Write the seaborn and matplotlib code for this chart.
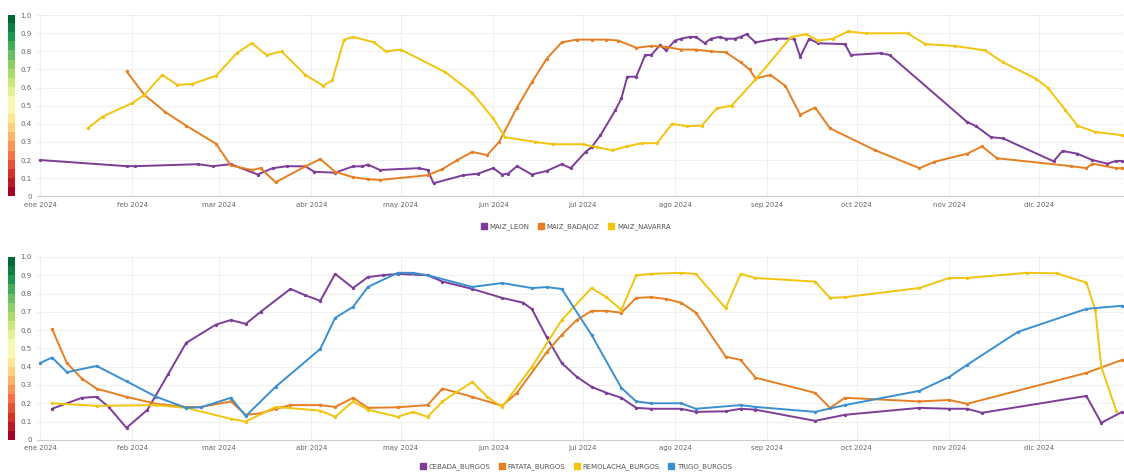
import pandas as pd
import numpy as np
import seaborn as sns
import matplotlib.pyplot as plt
from matplotlib.lines import Line2D

# Days counted from 1 Jan 2024, values are index readings (0-1)
leon_day = [0, 29, 32, 53, 58, 64, 73, 78, 83, 89, 92, 99, 105, 108, 110, 114, 127, 130, 132,
            142, 147, 152, 155, 157, 160, 165, 170, 175, 178, 183, 185, 188, 193, 195, 197, 200,
            203, 205, 208, 210, 213, 215, 218, 220, 223, 225, 228, 230, 233, 235, 237, 240, 247,
            253, 255, 258, 261, 270, 272, 282, 285, 311, 314, 319, 323, 340, 343, 348, 353, 358,
            361, 363]
leon_val = [0.20, 0.166, 0.166, 0.177, 0.166, 0.177, 0.12, 0.155, 0.166, 0.165, 0.135, 0.13, 0.165,
            0.165, 0.175, 0.145, 0.155, 0.145, 0.072, 0.116, 0.125, 0.155, 0.12, 0.125, 0.166, 0.12,
            0.14, 0.177, 0.155, 0.245, 0.27, 0.337, 0.475, 0.54, 0.66, 0.66, 0.78, 0.78, 0.835,
            0.805, 0.86, 0.87, 0.88, 0.88, 0.845, 0.87, 0.88, 0.87, 0.87, 0.88, 0.895, 0.85, 0.87,
            0.87, 0.77, 0.87, 0.845, 0.84, 0.78, 0.79, 0.78, 0.41, 0.387, 0.326, 0.32, 0.193, 0.25,
            0.235, 0.20, 0.18, 0.195, 0.195]

badajoz_day = [29, 35, 42, 49, 59, 64, 71, 74, 79, 89, 94, 99, 105, 110, 114, 130, 135, 140, 145,
               150, 154, 160, 165, 170, 175, 180, 185, 190, 194, 200, 205, 210, 215, 220, 225, 230,
               235, 238, 240, 245, 250, 255, 260, 265, 280, 295, 300, 311, 316, 321, 346, 351, 353,
               361, 363]
badajoz_val = [0.69, 0.56, 0.465, 0.39, 0.29, 0.17, 0.145, 0.155, 0.077, 0.165, 0.205, 0.135, 0.105,
               0.094, 0.09, 0.116, 0.15, 0.20, 0.245, 0.227, 0.30, 0.49, 0.63, 0.76, 0.85, 0.865,
               0.865, 0.865, 0.86, 0.82, 0.83, 0.825, 0.81, 0.81, 0.80, 0.795, 0.74, 0.70, 0.65,
               0.67, 0.61, 0.45, 0.49, 0.375, 0.255, 0.155, 0.19, 0.235, 0.275, 0.21, 0.166, 0.155,
               0.18, 0.155, 0.155]

navarra_day = [16, 21, 31, 35, 41, 46, 51, 59, 66, 71, 76, 81, 89, 95, 98, 102, 105, 112, 116, 121,
               136, 145, 152, 156, 166, 172, 182, 187, 192, 197, 202, 207, 212, 217, 222, 227, 232,
               240, 252, 257, 261, 266, 271, 277, 291, 297, 307, 317, 323, 334, 338, 344, 348, 354,
               363]
navarra_val = [0.375, 0.44, 0.515, 0.56, 0.67, 0.615, 0.62, 0.665, 0.79, 0.845, 0.78, 0.80, 0.67,
               0.61, 0.64, 0.865, 0.88, 0.85, 0.80, 0.81, 0.685, 0.57, 0.43, 0.326, 0.30, 0.287,
               0.287, 0.27, 0.254, 0.276, 0.293, 0.293, 0.40, 0.387, 0.39, 0.485, 0.50, 0.645, 0.88,
               0.895, 0.86, 0.87, 0.91, 0.90, 0.90, 0.84, 0.83, 0.805, 0.74, 0.65, 0.60, 0.475,
               0.39, 0.355, 0.337]

cebada_day = [4, 14, 19, 23, 29, 36, 43, 49, 59, 64, 69, 74, 84, 89, 94, 99, 105, 110, 115, 120,
              130, 135, 145, 155, 162, 165, 170, 175, 180, 185, 190, 195, 200, 205, 215, 220, 230,
              235, 240, 260, 270, 295, 305, 311, 316, 351, 356, 363]
cebada_val = [0.17, 0.23, 0.235, 0.18, 0.066, 0.164, 0.36, 0.53, 0.63, 0.655, 0.634, 0.70, 0.825,
              0.79, 0.76, 0.907, 0.83, 0.89, 0.90, 0.907, 0.90, 0.865, 0.825, 0.776, 0.75, 0.715,
              0.56, 0.42, 0.345, 0.29, 0.257, 0.23, 0.175, 0.17, 0.17, 0.153, 0.156, 0.17, 0.165,
              0.104, 0.137, 0.175, 0.17, 0.17, 0.148, 0.24, 0.093, 0.153]

patata_day = [4, 9, 14, 19, 29, 39, 49, 54, 64, 69, 74, 79, 84, 94, 99, 105, 110, 120, 130, 135,
              145, 155, 160, 170, 175, 180, 185, 190, 195, 200, 205, 210, 215, 220, 230, 235, 240,
              260, 265, 270, 295, 305, 311, 351, 363]
patata_val = [0.607, 0.42, 0.335, 0.28, 0.235, 0.197, 0.18, 0.18, 0.21, 0.137, 0.145, 0.17, 0.19,
              0.19, 0.18, 0.23, 0.175, 0.178, 0.19, 0.28, 0.235, 0.186, 0.257, 0.48, 0.574, 0.655,
              0.705, 0.705, 0.695, 0.776, 0.78, 0.77, 0.75, 0.695, 0.455, 0.437, 0.34, 0.257,
              0.175, 0.23, 0.21, 0.218, 0.197, 0.366, 0.437]

remolacha_day = [4, 19, 39, 49, 64, 69, 79, 94, 99, 105, 110, 120, 125, 130, 135, 145, 150, 155,
                 165, 175, 185, 190, 195, 200, 205, 215, 220, 230, 235, 240, 260, 265, 270, 295,
                 305, 311, 331, 341, 351, 354, 356, 361]
remolacha_val = [0.20, 0.186, 0.19, 0.175, 0.115, 0.10, 0.18, 0.16, 0.126, 0.21, 0.165, 0.126,
                 0.153, 0.126, 0.21, 0.317, 0.235, 0.18, 0.40, 0.655, 0.83, 0.78, 0.71, 0.90, 0.907,
                 0.913, 0.907, 0.72, 0.907, 0.885, 0.865, 0.776, 0.78, 0.83, 0.885, 0.885, 0.913,
                 0.91, 0.86, 0.71, 0.40, 0.16]

trigo_day = [0, 4, 9, 19, 29, 39, 49, 54, 64, 69, 79, 94, 99, 105, 110, 120, 125, 130, 145, 155,
             165, 170, 175, 185, 195, 200, 205, 215, 220, 235, 240, 260, 270, 295, 305, 311, 328,
             351, 363]
trigo_val = [0.42, 0.45, 0.37, 0.404, 0.32, 0.235, 0.175, 0.178, 0.23, 0.13, 0.29, 0.497, 0.667,
             0.727, 0.836, 0.913, 0.913, 0.90, 0.836, 0.857, 0.83, 0.835, 0.825, 0.574, 0.284,
             0.21, 0.20, 0.20, 0.17, 0.19, 0.18, 0.153, 0.19, 0.268, 0.344, 0.41, 0.59, 0.716,
             0.733]

month_labels = ['ene 2024', 'feb 2024', 'mar 2024', 'abr 2024', 'may 2024', 'jun 2024',
                'jul 2024', 'ago 2024', 'sep 2024', 'oct 2024', 'nov 2024', 'dic 2024']

purple = '#7D3C98'
orange = '#E67E22'
yellow = '#F1C40F'
blue = '#3A8FD0'

base = pd.Timestamp('2024-01-01')


def build_frame(series):
    parts = []
    for name, days, vals in series:
        parts.append(pd.DataFrame({
            'fecha': base + pd.to_timedelta(days, unit='D'),
            'valor': vals,
            'serie': name,
        }))
    return pd.concat(parts, ignore_index=True)


top_df = build_frame([
    ('MAIZ_LEON', leon_day, leon_val),
    ('MAIZ_BADAJOZ', badajoz_day, badajoz_val),
    ('MAIZ_NAVARRA', navarra_day, navarra_val),
])
bottom_df = build_frame([
    ('CEBADA_BURGOS', cebada_day, cebada_val),
    ('PATATA_BURGOS', patata_day, patata_val),
    ('REMOLACHA_BURGOS', remolacha_day, remolacha_val),
    ('TRIGO_BURGOS', trigo_day, trigo_val),
])
top_pal = {'MAIZ_LEON': purple, 'MAIZ_BADAJOZ': orange, 'MAIZ_NAVARRA': yellow}
bottom_pal = {'CEBADA_BURGOS': purple, 'PATATA_BURGOS': orange,
              'REMOLACHA_BURGOS': yellow, 'TRIGO_BURGOS': blue}

sns.set_theme(style='white')
plt.rcParams['font.family'] = ['DejaVu Sans']

fig = plt.figure(figsize=(11.24, 4.74), dpi=100)
ax_top = fig.add_axes([0.033, 0.586, 0.966, 0.382])
ax_bot = fig.add_axes([0.033, 0.072, 0.966, 0.386])
cb_top = fig.add_axes([0.007, 0.586, 0.0055, 0.382])
cb_bot = fig.add_axes([0.007, 0.072, 0.0055, 0.386])

month_ticks = pd.date_range('2024-01-01', '2024-12-01', freq='MS')
xmin = base - pd.Timedelta(days=1)
xmax = pd.Timestamp('2024-12-29 06:00')


def style_axis(ax, df, pal):
    sns.lineplot(data=df, x='fecha', y='valor', hue='serie', palette=pal, marker='o',
                 markersize=2.4, markeredgewidth=0, linewidth=1.4, sort=False,
                 legend=False, ax=ax, estimator=None)
    ax.set_xlim(xmin, xmax)
    ax.set_ylim(0, 1.0)
    ax.set_yticks(np.arange(0, 1.01, 0.1))
    ax.set_yticklabels(['0'] + [f'{v:.1f}' for v in np.arange(0.1, 1.01, 0.1)])
    ax.set_xticks(month_ticks)
    ax.set_xticklabels(month_labels)
    ax.tick_params(axis='both', labelsize=5, colors='#666666', length=0, pad=4)
    ax.set_xlabel('')
    ax.set_ylabel('')
    ax.grid(True, color='#ececec', linewidth=0.6)
    for side in ['top', 'right', 'left']:
        ax.spines[side].set_visible(False)
    ax.spines['bottom'].set_color('#cccccc')
    ax.spines['bottom'].set_linewidth(0.8)


style_axis(ax_top, top_df, top_pal)
style_axis(ax_bot, bottom_df, bottom_pal)

# colour scale strip next to the y axis
steps = np.linspace(0, 1, 20).reshape(-1, 1)
for cb in [cb_top, cb_bot]:
    cb.imshow(steps, cmap='RdYlGn', origin='lower', aspect='auto', extent=[0, 1, 0, 1])
    cb.set_axis_off()


def add_legend(pal, y):
    handles = [Line2D([], [], marker='s', linestyle='', color=c, markersize=5) for c in pal.values()]
    fig.legend(handles, list(pal.keys()), loc='center', bbox_to_anchor=(0.512, y), ncol=len(pal),
               frameon=False, fontsize=5, labelcolor='#555555', handletextpad=0.3,
               columnspacing=1.2, handlelength=1)


add_legend(top_pal, 0.521)
add_legend(bottom_pal, 0.015)

fig.savefig('out.png', dpi=100)
